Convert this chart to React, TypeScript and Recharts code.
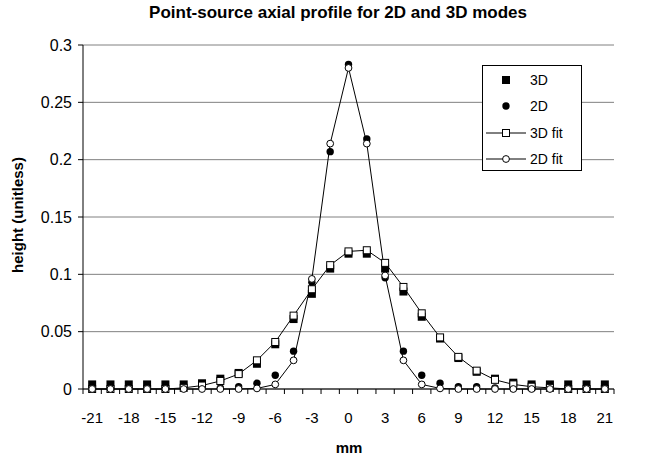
import React from 'react';
import { ComposedChart, Line, XAxis, YAxis, CartesianGrid, Legend } from 'recharts';

// slice positions (mm)
const X_MM = [-21, -19.5, -18, -16.5, -15, -13.5, -12, -10.5, -9, -7.5, -6, -4.5, -3, -1.5, 0, 1.5, 3, 4.5, 6, 7.5, 9, 10.5, 12, 13.5, 15, 16.5, 18, 19.5, 21];

const MODE_3D = [0.004, 0.004, 0.004, 0.004, 0.004, 0.004, 0.005, 0.009, 0.014, 0.022, 0.039, 0.061, 0.083, 0.105, 0.118, 0.118, 0.105, 0.085, 0.063, 0.044, 0.027, 0.015, 0.009, 0.0055, 0.004, 0.004, 0.004, 0.004, 0.004];
const MODE_2D = [0.0005, 0.0005, 0.0005, 0.0005, 0.0005, 0.0005, 0.001, 0.001, 0.002, 0.005, 0.012, 0.033, 0.093, 0.207, 0.283, 0.218, 0.097, 0.033, 0.012, 0.005, 0.002, 0.002, 0.001, 0.0005, 0.0005, 0.0005, 0.0005, 0.0005, 0.0005];
const FIT_3D = [0, 0, 0, 0, 0, 0.001, 0.003, 0.007, 0.013, 0.025, 0.041, 0.064, 0.087, 0.108, 0.12, 0.121, 0.11, 0.089, 0.066, 0.045, 0.028, 0.016, 0.008, 0.004, 0.002, 0.001, 0, 0, 0];
const FIT_2D = [0, 0, 0, 0, 0, 0, 0, 0, 0, 0.0005, 0.004, 0.025, 0.096, 0.214, 0.28, 0.214, 0.099, 0.025, 0.004, 0.0005, 0, 0, 0, 0, 0, 0, 0, 0, 0];

const X_LABELS = [-21, -18, -15, -12, -9, -6, -3, 0, 3, 6, 9, 12, 15, 18, 21];
const Y_TICKS = [0, 0.05, 0.1, 0.15, 0.2, 0.25, 0.3];

// tick marks sit between the categories
const EDGES = [...X_MM.map((v) => v - 0.75), 21.75];

const data = X_MM.map((x, i) => ({
  x,
  d3: MODE_3D[i],
  d2: MODE_2D[i],
  f3: FIT_3D[i],
  f2: FIT_2D[i],
}));

const FONT = '"Liberation Sans", Arial, sans-serif';

const XTick = (props: any) => {
  const { x, y, payload } = props;
  const v = payload.value;
  if (X_LABELS.includes(v)) {
    return (
      <text x={x} y={y + 34} textAnchor="middle" fontSize={15} fill="#000" fontFamily={FONT}>
        {v}
      </text>
    );
  }
  return <line x1={x} y1={y} x2={x} y2={y + 5} stroke="#000" strokeWidth={1} />;
};

const filledSquare = (p: any) => (
  <rect key={`s${p.index}`} x={p.cx - 4} y={p.cy - 4} width={8} height={8} fill="#000" />
);
const filledCircle = (p: any) => <circle key={`c${p.index}`} cx={p.cx} cy={p.cy} r={3.7} fill="#000" />;
const openSquare = (p: any) => (
  <rect key={`os${p.index}`} x={p.cx - 3.5} y={p.cy - 3.5} width={7} height={7} fill="#fff" stroke="#000" strokeWidth={1} />
);
const openCircle = (p: any) => (
  <circle key={`oc${p.index}`} cx={p.cx} cy={p.cy} r={3.4} fill="#fff" stroke="#000" strokeWidth={1} />
);

const LegendBox = () => {
  const rows = [
    { label: '3D', y: 14, kind: 'fs' },
    { label: '2D', y: 40, kind: 'fc' },
    { label: '3D fit', y: 67, kind: 'os' },
    { label: '2D fit', y: 93, kind: 'oc' },
  ];
  return (
    <div style={{ width: 100, height: 106, border: '1px solid #000', background: '#fff', boxSizing: 'border-box' }}>
      <svg width={98} height={104}>
        {rows.map((r) => (
          <g key={r.label}>
            {(r.kind === 'os' || r.kind === 'oc') && (
              <line x1={3} y1={r.y} x2={43} y2={r.y} stroke="#000" strokeWidth={1} />
            )}
            {r.kind === 'fs' && <rect x={19} y={r.y - 4} width={8} height={8} fill="#000" />}
            {r.kind === 'fc' && <circle cx={23} cy={r.y} r={3.7} fill="#000" />}
            {r.kind === 'os' && (
              <rect x={19.5} y={r.y - 3.5} width={7} height={7} fill="#fff" stroke="#000" />
            )}
            {r.kind === 'oc' && <circle cx={23} cy={r.y} r={3.4} fill="#fff" stroke="#000" />}
            <text x={47} y={r.y + 5} fontSize={14} fontFamily={FONT} fill="#000">
              {r.label}
            </text>
          </g>
        ))}
      </svg>
    </div>
  );
};

export default function App() {
  return (
    <div style={{ position: 'fixed', left: 0, top: 0, width: 645, height: 461, background: '#fff', fontFamily: FONT }}>
      <div
        style={{
          position: 'absolute',
          top: 3,
          left: 0,
          width: 676,
          textAlign: 'center',
          fontWeight: 'bold',
          fontSize: 17,
          color: '#000',
        }}
      >
        Point-source axial profile for 2D and 3D modes
      </div>
      <ComposedChart width={645} height={461} data={data} margin={{ top: 45, right: 31, bottom: 42, left: 0 }}>
        <CartesianGrid vertical={false} stroke="#808080" strokeWidth={1} />
        <XAxis
          dataKey="x"
          type="number"
          domain={[-21.75, 21.75]}
          ticks={[...EDGES, ...X_LABELS]}
          interval={0}
          tick={<XTick />}
          tickLine={false}
          tickSize={0}
          tickMargin={0}
          height={30}
          axisLine={{ stroke: '#000' }}
          label={{
            content: () => (
              <text x={349} y={453} textAnchor="middle" fontSize={15} fontWeight="bold" fontFamily={FONT} fill="#000">
                mm
              </text>
            ),
          }}
        />
        <YAxis
          type="number"
          domain={[0, 0.3]}
          ticks={Y_TICKS}
          interval={0}
          width={83}
          tickSize={5}
          tickMargin={6}
          tick={{ fontSize: 16, fill: '#000', fontFamily: FONT }}
          tickLine={{ stroke: '#000' }}
          axisLine={{ stroke: '#000' }}
          label={{
            content: () => (
              <text
                transform="translate(23,215) rotate(-90)"
                textAnchor="middle"
                fontSize={15}
                fontWeight="bold"
                fontFamily={FONT}
                fill="#000"
              >
                height (unitless)
              </text>
            ),
          }}
        />
        <Legend
          layout="vertical"
          align="center"
          verticalAlign="middle"
          wrapperStyle={{ left: 482, top: 65, width: 100 }}
          content={() => <LegendBox />}
        />
        <Line dataKey="d3" stroke="none" dot={filledSquare} activeDot={false} isAnimationActive={false} />
        <Line dataKey="d2" stroke="none" dot={filledCircle} activeDot={false} isAnimationActive={false} />
        <Line dataKey="f3" stroke="#000" strokeWidth={1} dot={openSquare} activeDot={false} isAnimationActive={false} />
        <Line dataKey="f2" stroke="#000" strokeWidth={1} dot={openCircle} activeDot={false} isAnimationActive={false} />
      </ComposedChart>
    </div>
  );
}
